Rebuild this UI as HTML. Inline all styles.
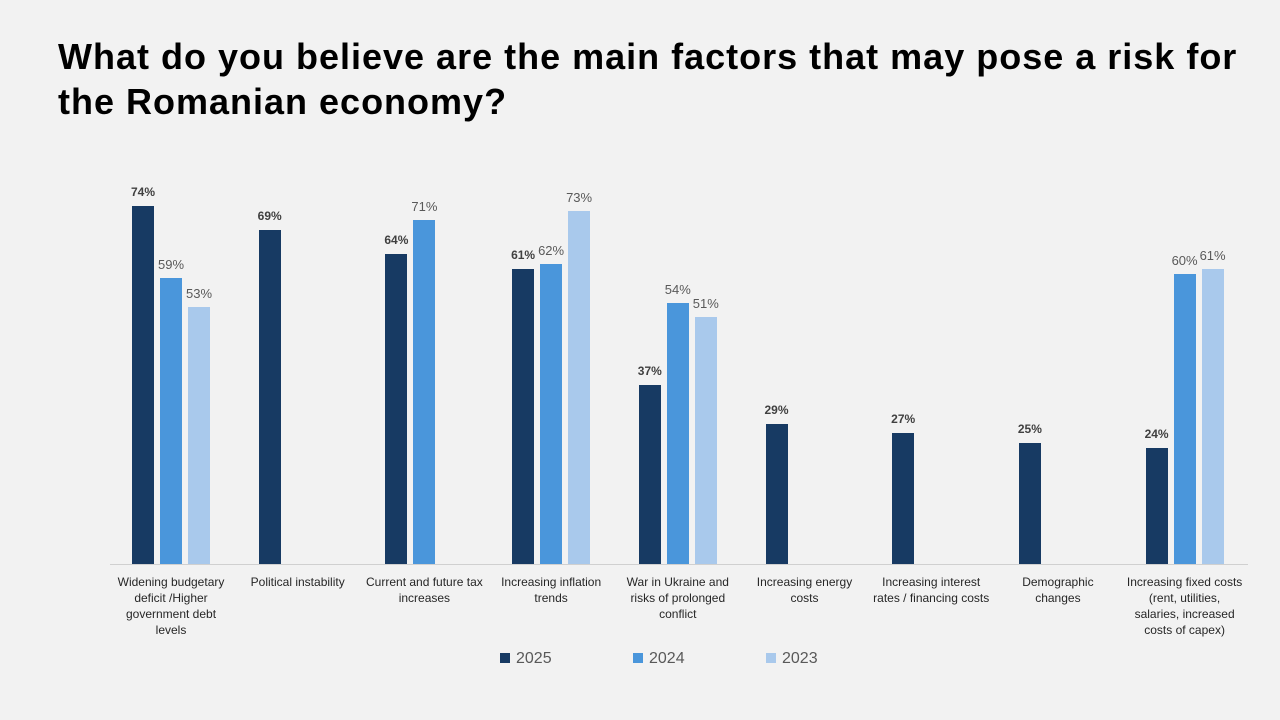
<!DOCTYPE html>
<html><head><meta charset="utf-8"><style>
body{margin:0;width:1280px;height:720px;background:#f2f2f2;font-family:"Liberation Sans",sans-serif;position:relative;overflow:hidden}
.t{position:absolute;left:58px;top:34px;font-size:36px;letter-spacing:1px;font-weight:bold;color:#000;line-height:45px;white-space:nowrap}
.b{position:absolute;width:22px}
.d{background:#173a63}.m{background:#4a96db}.l{background:#a9c9ec}
.v{position:absolute;width:40px;text-align:center;font-size:13px;color:#595959}
.vb{font-weight:bold;font-size:12px;color:#404040}
.c{position:absolute;top:574px;width:140px;text-align:center;font-size:12px;line-height:16px;color:#262626;white-space:nowrap}
.lg{position:absolute;top:650px;font-size:16px;color:#595959}
.lg span{display:inline-block;width:10px;height:10px;margin-right:6px;vertical-align:0}
</style></head><body>
<div class="t">What do you believe are the main factors that may pose a risk for<br>the Romanian economy?</div>
<div style="position:absolute;left:110px;top:564px;width:1138px;height:1px;background:#d0d0d0"></div>
<div id="g"></div>
<div class="lg" style="left:500px"><span style="background:#173a63"></span>2025</div>
<div class="lg" style="left:633px"><span style="background:#4a96db"></span>2024</div>
<div class="lg" style="left:766px"><span style="background:#a9c9ec"></span>2023</div>
<script>
var data=[[74,59,53,"Widening budgetary<br>deficit /Higher<br>government debt<br>levels"],[69,null,null,"Political instability"],[64,71,null,"Current and future tax<br>increases"],[61,62,73,"Increasing inflation<br>trends"],[37,54,51,"War in Ukraine and<br>risks of prolonged<br>conflict"],[29,null,null,"Increasing energy<br>costs"],[27,null,null,"Increasing interest<br>rates / financing costs"],[25,null,null,"Demographic<br>changes"],[24,60,61,"Increasing fixed costs<br>(rent, utilities,<br>salaries, increased<br>costs of capex)"]];
var h="",cls=["d","m","l"],off=[-39,-11,17];
data.forEach(function(r,i){var c=171+126.7*i;
for(var k=0;k<3;k++){if(r[k]==null)continue;var ht=r[k]*4.84,x=c+off[k],top=564-ht;
h+='<div class="b '+cls[k]+'" style="left:'+x+'px;top:'+top+'px;height:'+ht+'px"></div>';
h+='<div class="v'+(k==0?' vb':'')+'" style="left:'+(x-9)+'px;top:'+(top-21)+'px">'+r[k]+'%</div>';}
h+='<div class="c" style="left:'+(c-70)+'px">'+r[3]+'</div>';});
document.getElementById("g").innerHTML=h;
</script>
</body></html>
